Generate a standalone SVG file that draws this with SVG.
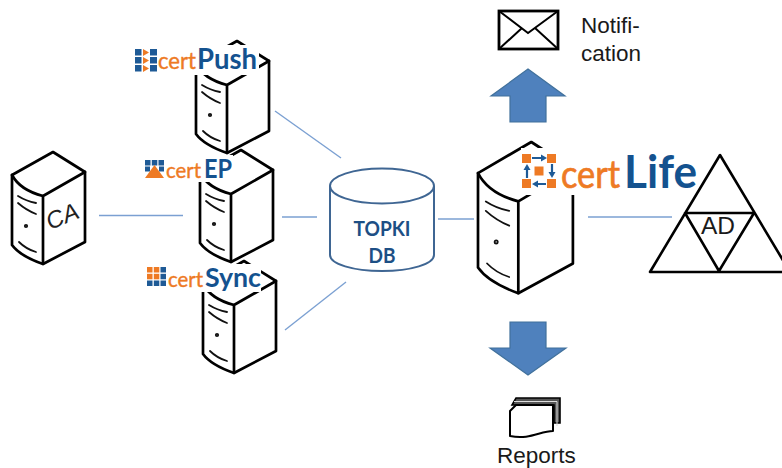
<svg xmlns="http://www.w3.org/2000/svg" width="782" height="468" viewBox="0 0 782 468">
<defs>
<g id="srv">
<path class="o" d="M0,23 L41,0 L73,20 L73,90 L31,112 Q8,104 0,93 Z"/>
<path class="o" d="M0,23 Q8,38 31,44 L73,20 M31,44 V112"/>
<path class="t" d="M6,44 Q14,49 24,51 M6,51 Q14,58 24,62 M7,90 Q14,97 24,100"/>
<circle class="t" cx="14" cy="74" r="1.200"/>
</g>
<polygon id="tri" points="0,0 6,3.500 0,7"/>
</defs>
<style>
.o{fill:none;stroke:#000;stroke-width:2.700;stroke-linejoin:round;stroke-linecap:round;vector-effect:non-scaling-stroke}
.t{fill:none;stroke:#111;stroke-width:1.800;stroke-linecap:round;vector-effect:non-scaling-stroke}
.c{stroke:#7ba0d2;stroke-width:1.400;fill:none}
.arr{fill:#4f81bd;stroke:#41719c;stroke-width:1.200}
.lbl{font-family:"Liberation Sans",Arial,sans-serif;font-size:22.500px;fill:#1a1a1a}
.or{font-family:Lato,"Open Sans",sans-serif;fill:#ee7a24;stroke:#ee7a24;stroke-width:.4}
.bl{font-family:Lato,"Open Sans",sans-serif;font-weight:700;fill:#14528f}
.w{fill:#fff}.b{fill:#1e5a96}.r{fill:#ee7a24}
.k{fill:none;stroke:#000;stroke-width:2.600;stroke-linejoin:round}
</style>
<g id="connectors">
<line class="c" x1="99" y1="215.500" x2="183" y2="215.500"/>
<line class="c" x1="275" y1="111" x2="341" y2="158"/>
<line class="c" x1="282" y1="217" x2="317" y2="217"/>
<line class="c" x1="285" y1="330" x2="346" y2="282"/>
<line class="c" x1="438" y1="219" x2="474" y2="219"/>
<line class="c" x1="588" y1="217" x2="672" y2="217"/>
</g>
<g id="ca">
<use href="#srv" x="12" y="152"/>
<text transform="translate(50,230) rotate(-22)" font-family="Liberation Sans,sans-serif" font-style="italic" font-size="24" fill="#222">CA</text>
</g>
<g id="certpush-server"><use href="#srv" x="196" y="41"/></g>
<g id="certep-server"><use href="#srv" x="200" y="150"/></g>
<g id="certsync-server"><use href="#srv" x="203" y="261"/></g>
<g id="certlife-server"><use href="#srv" transform="translate(478,142) scale(1.3,1.35)"/></g>
<g id="certpush-logo">
<rect class="w" x="133" y="45" width="126" height="30"/>
<g class="b"><rect x="135" y="49" width="6.500" height="6.500"/><rect x="135" y="57" width="6.500" height="6.500"/><rect x="135" y="65" width="6.500" height="6.500"/><rect x="150" y="49" width="7" height="6.500"/><rect x="150" y="57" width="7" height="6.500"/><rect x="150" y="65" width="7" height="6.500"/></g>
<g class="r"><use href="#tri" x="143" y="49"/><use href="#tri" x="143" y="57"/><use href="#tri" x="143" y="65"/></g>
<text class="or" x="158" y="69" font-size="23" textLength="38" lengthAdjust="spacingAndGlyphs">cert</text>
<text class="bl" x="197" y="69" font-size="29" textLength="60" lengthAdjust="spacingAndGlyphs">Push</text>
</g>
<g id="certep-logo">
<rect class="w" x="143" y="155" width="90" height="27"/>
<g class="b"><rect x="145" y="160" width="5.500" height="5.500"/><rect x="151.800" y="160" width="5.500" height="5.500"/><rect x="158.500" y="160" width="5.500" height="5.500"/><rect x="145" y="166.500" width="5" height="5"/><rect x="159" y="166.500" width="5" height="5"/></g>
<polygon class="r" points="154.500,165 164,178 145,178"/>
<text class="or" x="166" y="178" font-size="21" textLength="35" lengthAdjust="spacingAndGlyphs">cert</text>
<text class="bl" x="204" y="178" font-size="26" textLength="28" lengthAdjust="spacingAndGlyphs">EP</text>
</g>
<g id="certsync-logo">
<rect class="w" x="146" y="264" width="115" height="28"/>
<g class="r"><rect x="147" y="267" width="5.500" height="5.500"/><rect x="153.800" y="267" width="5.500" height="5.500"/><rect x="147" y="273.800" width="5.500" height="5.500"/><rect x="153.800" y="273.800" width="5.500" height="5.500"/></g>
<g class="b"><rect x="160.500" y="267" width="5.500" height="5.500"/><rect x="160.500" y="273.800" width="5.500" height="5.500"/><rect x="147" y="280.500" width="5.500" height="5.500"/><rect x="153.800" y="280.500" width="5.500" height="5.500"/><rect x="160.500" y="280.500" width="5.500" height="5.500"/></g>
<text class="or" x="168" y="287" font-size="21" textLength="35" lengthAdjust="spacingAndGlyphs">cert</text>
<text class="bl" x="205" y="287" font-size="27" textLength="56" lengthAdjust="spacingAndGlyphs">Sync</text>
</g>
<g id="certlife-logo">
<rect class="w" x="521" y="148" width="177" height="47"/>
<g class="r"><rect x="522" y="154" width="9" height="9"/><rect x="547" y="154" width="9" height="9"/><rect x="522" y="179" width="9" height="9"/><rect x="547" y="179" width="9" height="9"/><rect x="534.500" y="166.500" width="9" height="9"/></g>
<g fill="none" stroke="#1e5a96" stroke-width="2.200"><path d="M532,158 H542 M552,164 V173 M546,184 H537 M527,178 V169"/></g>
<g class="b"><polygon points="547,158 541,154.500 541,161.500"/><polygon points="552,178 548.500,172 555.500,172"/><polygon points="532,184 538,180.500 538,187.500"/><polygon points="527,164 523.500,170 530.500,170"/></g>
<text class="or" style="stroke-width:.7" x="561" y="188" font-size="38" textLength="59" lengthAdjust="spacingAndGlyphs">cert</text>
<text class="bl" x="624" y="188" font-size="46" textLength="73" lengthAdjust="spacingAndGlyphs">Life</text>
</g>
<g id="topki-db">
<path d="M330,186 V255 C330,264 353,271 382,271 C411,271 434,264 434,255 V186" fill="none" stroke="#3f6693" stroke-width="2"/>
<ellipse cx="382" cy="186" rx="52" ry="17.500" fill="none" stroke="#3f6693" stroke-width="2"/>
<g font-family="Lato,Open Sans,sans-serif" font-weight="700" font-size="20" fill="#1d4f85" text-anchor="middle">
<text x="382" y="236" textLength="57" lengthAdjust="spacingAndGlyphs">TOPKI</text>
<text x="382" y="263" textLength="27" lengthAdjust="spacingAndGlyphs">DB</text>
</g>
</g>
<g id="ad">
<path class="k" d="M720,155 L650,272 H790 Z M685,213 H754 L719,271 Z"/>
<text class="lbl" x="718" y="234" text-anchor="middle" textLength="34" lengthAdjust="spacingAndGlyphs" style="font-size:23px">AD</text>
</g>
<g id="notification">
<rect x="499" y="11" width="59" height="38" fill="#fff" stroke="#000" stroke-width="2.800"/>
<path d="M499,11 L528,33 L558,11 M499,49 L522,28 M558,49 L535,28" fill="none" stroke="#000" stroke-width="2"/>
<text class="lbl" x="581" y="33">Notifi-</text>
<text class="lbl" x="581" y="61">cation</text>
</g>
<polygon id="up-arrow" class="arr" points="528,69 565,96 546,96 546,122 510,122 510,96 491,96"/>
<polygon id="down-arrow" class="arr" points="510,322 546,322 546,348 566,348 528,375 490,348 510,348"/>
<g id="reports">
<path d="M516,398 H560 V423 H554 V405 H512 Z" fill="#555" stroke="#000" stroke-width="1.600"/>
<path d="M514,401.500 H557 V426" fill="none" stroke="#ddd" stroke-width="1"/>
<path d="M516,405 H553 V431 C540,431 530,440 510,436 V411 Z" fill="#fff" stroke="#000" stroke-width="2" stroke-linejoin="round"/>
<text class="lbl" x="497" y="463">Reports</text>
</g>
</svg>
